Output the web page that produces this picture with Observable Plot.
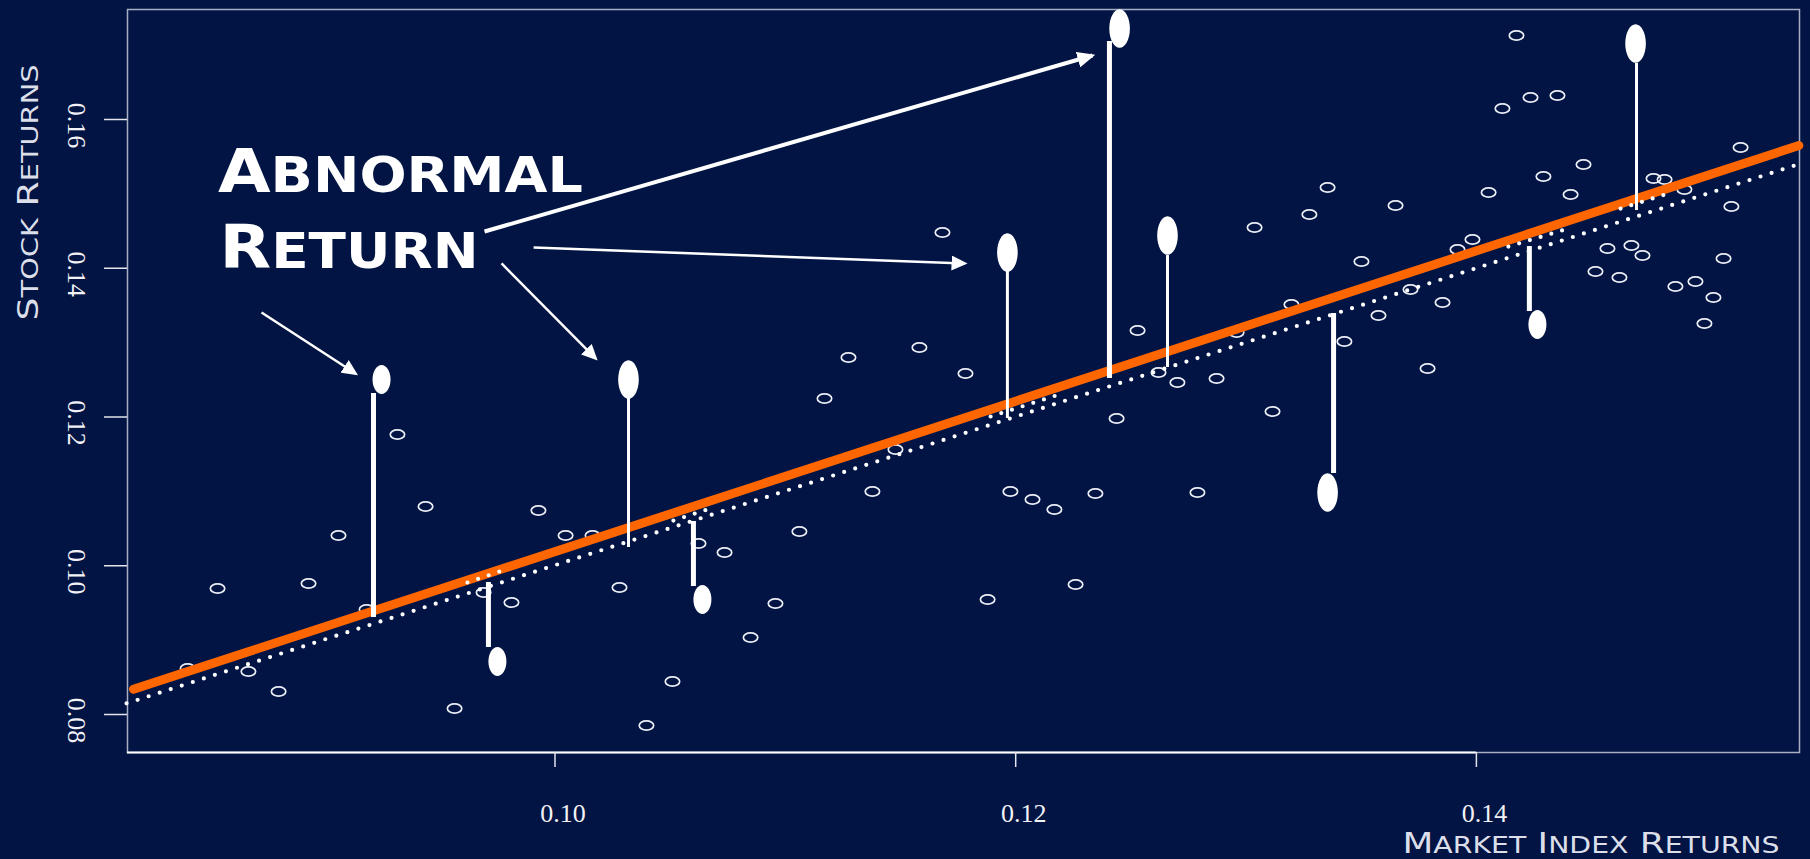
<!DOCTYPE html>
<html><head><meta charset="utf-8">
<script src="https://cdn.jsdelivr.net/npm/d3@7"></script>
<script src="https://cdn.jsdelivr.net/npm/@observablehq/plot@0.6"></script>
<style>
html,body{margin:0;padding:0;background:#011443;}
#chart{width:1810px;height:859px;overflow:hidden}
</style></head><body><div id="chart"></div>
<script>
// ---- data ----
const marketX = [
0.08405,0.08535,0.08669,0.08800,0.08930,0.09060,0.09182,0.09316,0.09438,0.09564,
0.09690,0.09811,0.09928,0.10046,0.10163,0.10280,0.10397,0.10510,0.10623,0.10736,
0.10849,0.10957,0.11061,0.11170,0.11274,0.11378,0.11478,0.11582,0.11682,0.11782,
0.11878,0.11977,0.12073,0.12168,0.12260,0.12346,0.12438,0.12529,0.12620,0.12702,
0.12789,0.12872,0.12959,0.13037,0.13115,0.13197,0.13275,0.13354,0.13427,0.13501,
0.13575,0.13649,0.13714,0.13788,0.13853,0.13918,0.13983,0.14053,0.14113,0.14174,
0.14235,0.14291,0.14352,0.14409,0.14465,0.14517,0.14569,0.14621,0.14673,0.14721,
0.14769,0.14817,0.14864,0.14903,0.14951,0.14990,0.15029,0.15073,0.15107,0.15147];
const stockY = [
0.08619,0.09694,0.08578,0.08309,0.09761,0.10407,0.09412,0.11765,0.10797,0.08081,
0.09640,0.09506,0.10743,0.10407,0.10407,0.09708,0.07852,0.08444,0.10299,0.10178,
0.09035,0.09492,0.10461,0.12249,0.12800,0.10998,0.11563,0.12934,0.14481,0.12585,
0.09546,0.10998,0.10891,0.10756,0.09748,0.10971,0.11980,0.13163,0.12598,0.12464,
0.10985,0.12518,0.13136,0.14548,0.12074,0.13513,0.14723,0.15086,0.13015,0.14091,
0.13365,0.14844,0.13714,0.12652,0.13539,0.14252,0.14387,0.15018,0.16148,0.17129,
0.16296,0.15234,0.16323,0.14992,0.15395,0.13956,0.14266,0.13876,0.14306,0.14171,
0.15207,0.15193,0.13755,0.15059,0.13822,0.13257,0.13607,0.14131,0.14830,0.15624];

// highlighted (abnormal) observations and their residual stems
const abnormalX = [0.09247,0.09750,0.10319,0.10640,0.11964,0.12451,0.12659,0.13354,0.14265,0.14691];
const abnormalY = [0.12504,0.08713,0.12504,0.09546,0.14212,0.17224,0.14440,0.10985,0.13244,0.17022];
const stemX     = [0.09212,0.09711,0.10319,0.10601,0.11964,0.12407,0.12659,0.13380,0.14230,0.14695];
const expectedY = [0.09304,0.09775,0.10245,0.10595,0.11980,0.12518,0.12666,0.13392,0.14292,0.14776];
const stemTopY  = [0.12316,0.08901,0.12249,0.09721,0.13970,0.17049,0.14171,0.11240,0.13418,0.16753];

// fitted regression line (orange) and dotted reference line
const fitX = [0.0817, 0.1540];
const fitY = [0.0834, 0.1565];
const refX = [0.0814, 0.1541];
const refY = [0.0815, 0.1541];
// short dotted pieces over the fitted line near some stems
const segX1 = [0.09620,0.10514,0.11891,0.14139,0.14626];
const segY1 = [0.09775,0.10608,0.12007,0.14292,0.14803];
const segX2 = [0.09785,0.10675,0.12203,0.14400,0.14834];
const segY2 = [0.09950,0.10770,0.12316,0.14534,0.15005];

// annotation arrows (tail -> head)
const arrowX1 = [0.09694,0.09907,0.09768,0.08726];
const arrowY1 = [0.14494,0.14279,0.14064,0.13405];
const arrowX2 = [0.12333,0.11778,0.10176,0.09134];
const arrowY2 = [0.16861,0.14064,0.12787,0.12585];

const xTicks = [0.10, 0.12, 0.14];
const yTicks = [0.08, 0.10, 0.12, 0.14, 0.16];
const xLabel = "Market Index Returns";
const yLabel = "Stock Returns";
const noteLines = ["Abnormal", "Return"];

// ---- helpers ----
const xDomain = [0.081441, 0.154027];
const yDomain = [0.074891, 0.174790];

function ellipseSymbol(rx, ry) {
  const k = 0.5522847498;
  return {draw(ctx) {
    ctx.moveTo(rx, 0);
    ctx.bezierCurveTo(rx, ry * k, rx * k, ry, 0, ry);
    ctx.bezierCurveTo(-rx * k, ry, -rx, ry * k, -rx, 0);
    ctx.bezierCurveTo(-rx, -ry * k, -rx * k, -ry, 0, -ry);
    ctx.bezierCurveTo(rx * k, -ry, rx, -ry * k, rx, 0);
    ctx.closePath();
  }};
}
function arrowHead(len, wid) {
  return (color) => {
    const m = d3.create("svg:marker")
      .attr("viewBox", `${-len} ${-wid / 2} ${len} ${wid}`)
      .attr("markerWidth", len).attr("markerHeight", wid)
      .attr("markerUnits", "userSpaceOnUse")
      .attr("orient", "auto")
      .attr("refX", -3).attr("refY", 0)
      .attr("fill", color).attr("stroke", "none");
    m.append("path").attr("d", `M${-len},${-wid / 2}L0,0L${-len},${wid / 2}Z`);
    return m.node();
  };
}

const idx = d3.range(marketX.length);
const hIdx = d3.range(abnormalX.length);
const bigEllipse = new Set([2, 4, 5, 6, 7, 9]);
const thickStem = new Set([0, 1, 3, 5, 7, 8]);
const segIdx = d3.range(segX1.length);
const arrIdx = d3.range(arrowX1.length);

const serif = "'Liberation Serif', 'Times New Roman', serif";
const sans = "'DejaVu Sans', sans-serif";

const chart = Plot.plot({
  width: 1810, height: 859,
  marginLeft: 127, marginRight: 11, marginTop: 9, marginBottom: 107,
  style: {background: "#011443", color: "#ffffff", overflow: "visible"},
  x: {domain: xDomain},
  y: {domain: yDomain},
  marks: [
    Plot.frame({stroke: "#a9aec6", strokeWidth: 1.5}),
    Plot.ruleY([yDomain[0]], {x1: xDomain[0], x2: xTicks[xTicks.length - 1], stroke: "#ffffff", strokeWidth: 2.2}),
    Plot.axisX({ticks: xTicks, tickSize: 15, fill: "none", stroke: "#e4e4ea", strokeWidth: 1.5, label: null}),
    Plot.axisY({ticks: yTicks, tickSize: 23, fill: "none", stroke: "#e4e4ea", strokeWidth: 1.5, label: null}),
    Plot.text(xTicks, {x: d => d, frameAnchor: "bottom", text: d3.format(".2f"), dy: 51, dx: 8,
      lineAnchor: "top", textAnchor: "middle", fontSize: 26, fontFamily: serif, fill: "#f2f2f6"}),
    Plot.text(yTicks, {y: d => d, frameAnchor: "left", text: d3.format(".2f"), dx: -41, dy: 6,
      rotate: 90, lineAnchor: "top", textAnchor: "middle", fontSize: 26, fontFamily: serif, fill: "#f2f2f6"}),
    // open observations
    Plot.dot(idx, {x: i => marketX[i], y: i => stockY[i], symbol: ellipseSymbol(7.2, 4.6),
      fill: "none", stroke: "#eceef6", strokeWidth: 1.7}),
    // dotted reference line
    Plot.line(d3.range(refX.length), {x: i => refX[i], y: i => refY[i], stroke: "#ffffff",
      strokeWidth: 4.2, strokeDasharray: "0 11.6", strokeLinecap: "round"}),
    // fitted line
    Plot.line(d3.range(fitX.length), {x: i => fitX[i], y: i => fitY[i], stroke: "#ff6600", strokeWidth: 9}),
    Plot.link(segIdx, {x1: i => segX1[i], y1: i => segY1[i], x2: i => segX2[i], y2: i => segY2[i],
      stroke: "#ffffff", strokeWidth: 4.2, strokeDasharray: "0 11.2", strokeLinecap: "round"}),
    // residual stems
    Plot.ruleX(hIdx.filter(i => thickStem.has(i)), {x: i => stemX[i], y1: i => expectedY[i], y2: i => stemTopY[i], stroke: "#ffffff", strokeWidth: 5}),
    Plot.ruleX(hIdx.filter(i => !thickStem.has(i)), {x: i => stemX[i], y1: i => expectedY[i], y2: i => stemTopY[i], stroke: "#ffffff", strokeWidth: 3}),
    // abnormal observations
    Plot.dot(hIdx.filter(i => !bigEllipse.has(i)), {x: i => abnormalX[i], y: i => abnormalY[i], symbol: ellipseSymbol(9, 14.5), fill: "#ffffff", stroke: "none"}),
    Plot.dot(hIdx.filter(i => bigEllipse.has(i)), {x: i => abnormalX[i], y: i => abnormalY[i], symbol: ellipseSymbol(10.3, 19.3), fill: "#ffffff", stroke: "none"}),
    // annotation arrows
    Plot.link(arrIdx.filter(i => i === 0), {x1: i => arrowX1[i], y1: i => arrowY1[i], x2: i => arrowX2[i], y2: i => arrowY2[i],
      stroke: "#ffffff", strokeWidth: 4, markerEnd: arrowHead(18, 16)}),
    Plot.link(arrIdx.filter(i => i !== 0), {x1: i => arrowX1[i], y1: i => arrowY1[i], x2: i => arrowX2[i], y2: i => arrowY2[i],
      stroke: "#ffffff", strokeWidth: 2.5, markerEnd: arrowHead(16, 15)}),
    // annotation text
    Plot.text([noteLines[0]], {frameAnchor: "top-left", text: d => d, dx: 90.5, dy: 182, lineAnchor: "bottom", textAnchor: "start",
      fontFamily: sans, fontWeight: "bold", fontSize: 60, fill: "#ffffff"}),
    Plot.text([noteLines[1]], {frameAnchor: "top-left", text: d => d, dx: 92, dy: 258, lineAnchor: "bottom", textAnchor: "start",
      fontFamily: sans, fontWeight: "bold", fontSize: 60, fill: "#ffffff"}),
    // axis titles
    Plot.text([xLabel], {frameAnchor: "bottom-right", text: d => d, dx: -20, dy: 100, lineAnchor: "bottom", textAnchor: "end",
      fontFamily: sans, fontSize: 29, fill: "#dcdfe9"}),
    Plot.text([yLabel], {frameAnchor: "top-left", text: d => d, dx: -90, dy: 183, rotate: -90, lineAnchor: "bottom", textAnchor: "middle",
      fontFamily: sans, fontSize: 29, fill: "#dcdfe9"})
  ]
});

function smallCaps(el, big, small, length) {
  const s = el.textContent;
  while (el.firstChild) el.removeChild(el.firstChild);
  const ns = "http://www.w3.org/2000/svg";
  s.split(" ").forEach((w, i) => {
    const a = document.createElementNS(ns, "tspan");
    a.setAttribute("font-size", big);
    a.textContent = (i ? " " : "") + w[0].toUpperCase();
    el.appendChild(a);
    if (w.length > 1) {
      const b = document.createElementNS(ns, "tspan");
      b.setAttribute("font-size", small);
      b.textContent = w.slice(1).toUpperCase();
      el.appendChild(b);
    }
  });
  el.setAttribute("textLength", length);
  el.setAttribute("lengthAdjust", "spacingAndGlyphs");
}
const capsSpec = new Map([
  [noteLines[0], [60, 49, 365]],
  [noteLines[1], [60, 49, 259]],
  [xLabel, [29, 23, 377]],
  [yLabel, [29, 23, 256]]
]);
chart.querySelectorAll("text").forEach(el => {
  const spec = capsSpec.get(el.textContent);
  if (spec) smallCaps(el, ...spec);
});

document.getElementById("chart").appendChild(chart);
</script>
</body></html>
